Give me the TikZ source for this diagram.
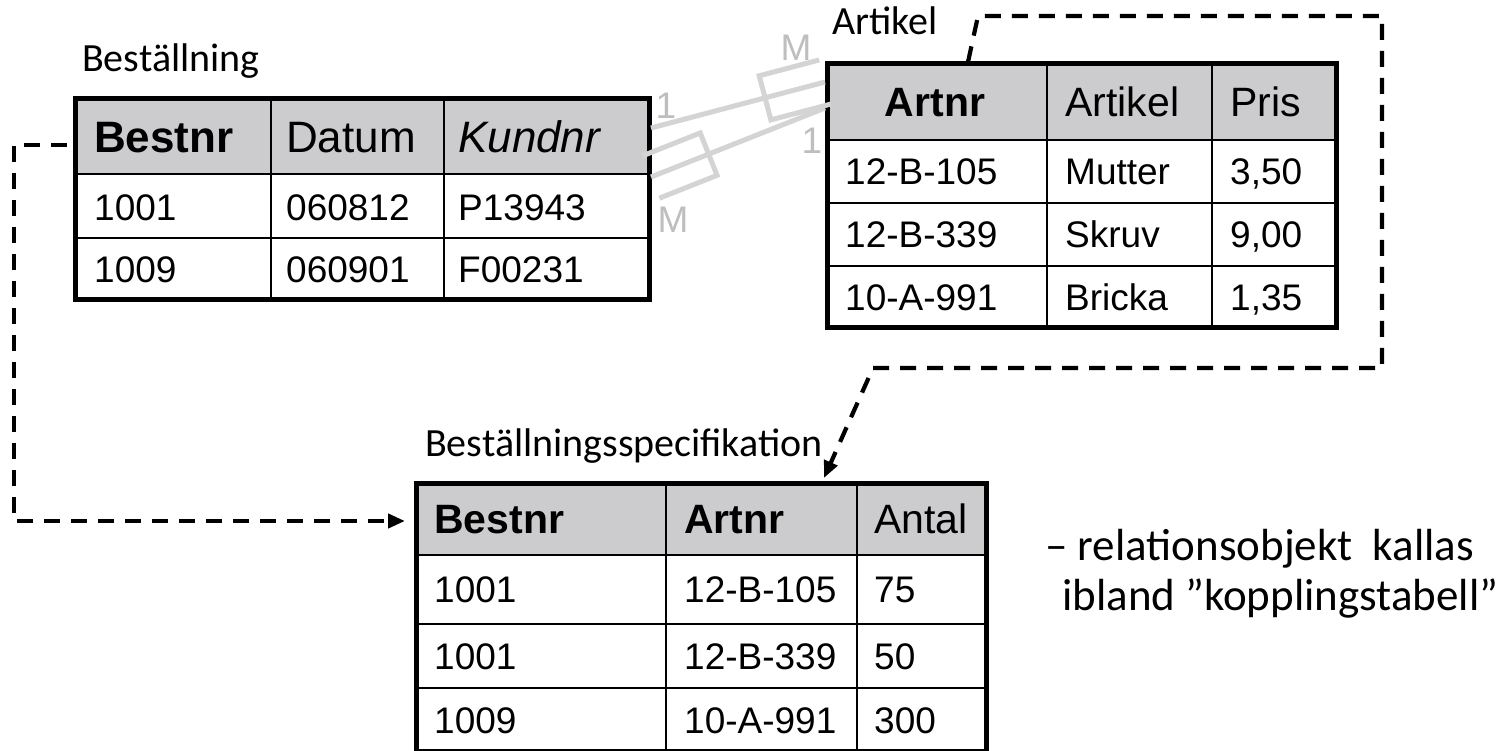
\documentclass[tikz,border=0pt]{standalone}
\usepackage{fontspec}
\setmainfont{Liberation Sans}
\newfontfamily\labelfont{Carlito}
\usetikzlibrary{arrows.meta,calc}

\definecolor{headfill}{RGB}{204,204,206}
\definecolor{linkgray}{RGB}{212,212,212}
\definecolor{cardgray}{RGB}{190,190,190}

% crow's foot (three prongs) at end #1 of the relation line #1--#2
\newcommand\crowsfoot[2]{%
  \coordinate (#1s) at ($(#1)!62pt!(#2)$);
  \draw[relline] ($(#1)!22.8pt!90:(#2)$) -- ($(#1s)!22.8pt!-90:(#1)$)
    -- ($(#1s)!22.8pt!90:(#1)$) -- ($(#1)!22.8pt!-90:(#2)$);
}

\begin{document}
\begin{tikzpicture}[x=1pt,y=-1pt,
  tblframe/.style={draw, line width=5pt, outer sep=0pt, inner sep=0pt, anchor=north west},
  tblrule/.style={line width=2.6pt},
  tcell/.style={anchor=west, inner sep=0pt, text depth=0pt},
  bhead/.style={tcell, font=\fontsize{44}{44}\selectfont, text height=31.5pt},
  thead/.style={tcell, font=\fontsize{41}{41}\selectfont, text height=29.4pt},
  tbody/.style={tcell, font=\fontsize{37}{37}\selectfont, text height=26.5pt},
  tbltitle/.style={anchor=base west, inner sep=0pt, font=\labelfont\fontsize{40}{40}\selectfont},
  notetext/.style={anchor=base west, inner sep=0pt, font=\labelfont\fontsize{45}{45}\selectfont},
  relline/.style={draw=linkgray, line width=5pt},
  cardlabel/.style={inner sep=0pt, text=cardgray, font=\fontsize{37}{37}\selectfont},
  fklink/.style={line width=4.2pt, dash pattern=on 16pt off 11pt,
    -{Triangle[length=17pt,width=14pt]}},
]
\fill[white] (0,0) rectangle (1508,751);
\useasboundingbox (0,0) rectangle (1508,751);

% ---------- Beställning ----------
\fill[headfill] (75,99) rectangle (649,174);
\draw[tblrule] (75,174) -- (649,174) (75,238) -- (649,238)
               (271,99) -- (271,300) (444,99) -- (444,300);
\node[tblframe, minimum width=574pt, minimum height=201pt] (best) at (75,99) {};
\node[tbltitle] (bestTitle) at (82,72) {Beställning};
\node[bhead] (b01) at (94,136.5) {\bfseries Bestnr};
\node[bhead] (b02) at (286,136.5) {Datum};
\node[bhead] (b03) at (458,136.5) {\itshape Kundnr};
\node[tbody] (b11) at (94,207) {1001};
\node[tbody] (b12) at (286,207) {060812};
\node[tbody] (b13) at (458,207) {P13943};
\node[tbody] (b21) at (94,269) {1009};
\node[tbody] (b22) at (286,269) {060901};
\node[tbody] (b23) at (458,269) {F00231};

% ---------- Artikel ----------
\fill[headfill] (827,64) rectangle (1336,140);
\draw[tblrule] (827,140) -- (1336,140) (827,203) -- (1336,203) (827,266) -- (1336,266)
               (1047,64) -- (1047,328) (1212,64) -- (1212,328);
\node[tblframe, minimum width=509pt, minimum height=264pt] (art) at (827,64) {};
\node[tbltitle] (artTitle) at (832,35) {Artikel};
\node[thead, anchor=center] (a01) at (935,102) {\bfseries Artnr};
\node[thead] (a02) at (1065,102) {Artikel};
\node[thead] (a03) at (1230,102) {Pris};
\node[tbody] (a11) at (845,171.5) {12-B-105};
\node[tbody] (a12) at (1065,171.5) {Mutter};
\node[tbody] (a13) at (1230,171.5) {3,50};
\node[tbody] (a21) at (845,234.5) {12-B-339};
\node[tbody] (a22) at (1065,234.5) {Skruv};
\node[tbody] (a23) at (1230,234.5) {9,00};
\node[tbody] (a31) at (845,297) {10-A-991};
\node[tbody] (a32) at (1065,297) {Bricka};
\node[tbody] (a33) at (1230,297) {1,35};

% ---------- Beställningsspecifikation ----------
\fill[headfill] (416,483) rectangle (986,555);
\draw[tblrule] (416,555) -- (986,555) (416,624) -- (986,624) (416,688) -- (986,688)
               (666,483) -- (666,751) (857,483) -- (857,751);
\node[tblframe, minimum width=570pt, minimum height=268pt] (spec) at (416,483) {};
\node[tbltitle] (specTitle) at (425,456) {Beställningsspecifikation};
\node[thead] (s01) at (434,519) {\bfseries Bestnr};
\node[thead] (s02) at (684,519) {\bfseries Artnr};
\node[thead] (s03) at (874,519) {Antal};
\node[tbody] (s11) at (434,589.5) {1001};
\node[tbody] (s12) at (684,589.5) {12-B-105};
\node[tbody] (s13) at (874,589.5) {75};
\node[tbody] (s21) at (434,656) {1001};
\node[tbody] (s22) at (684,656) {12-B-339};
\node[tbody] (s23) at (874,656) {50};
\node[tbody] (s31) at (434,720) {1009};
\node[tbody] (s32) at (684,720) {10-A-991};
\node[tbody] (s33) at (874,720) {300};

% ---------- relations Beställning -- Artikel ----------
\coordinate (A) at ($(art.north west)+(-2,18)$);
\coordinate (B) at ($(best.north east)+(2,29)$);
\coordinate (C) at ($(art.north west)+(-2,44)$);
\coordinate (D) at ($(best.north east)+(2,78)$);
\draw[relline] (B) -- (A);
\crowsfoot{A}{B}
\draw[relline] (C) -- (D);
\crowsfoot{D}{C}
\node[cardlabel] (c1) at (666,106) {1};
\node[cardlabel] (c2) at (796,48) {M};
\node[cardlabel] (c3) at (812,141) {1};
\node[cardlabel] (c4) at (673,220) {M};

% ---------- foreign keys ----------
\coordinate (bestOut) at ($(best.north west)+(-8,46)$);
\coordinate (k1) at (14,145);
\coordinate (k2) at (14,521);
\coordinate (specIn) at ($(spec.north west)+(-11,38)$);
\draw[fklink] (bestOut) -- (k1) -- (k2) -- (specIn);

\coordinate (artOut) at ($(art.north west)+(141,-2)$);
\coordinate (k3) at (978,16);
\coordinate (k4) at (1382,16);
\coordinate (k5) at (1382,368);
\coordinate (k6) at (873,368);
\coordinate (specTop) at ($(spec.north west)+(408,-5)$);
\draw[fklink] (artOut) -- (k3) -- (k4) -- (k5) -- (k6) -- (specTop);

% ---------- note ----------
\node[notetext] (note1) at (1045,560) {– relationsobjekt\ \ kallas};
\node[notetext] (note2) at (1062,610) {ibland ”kopplingstabell”};
\end{tikzpicture}
\end{document}
